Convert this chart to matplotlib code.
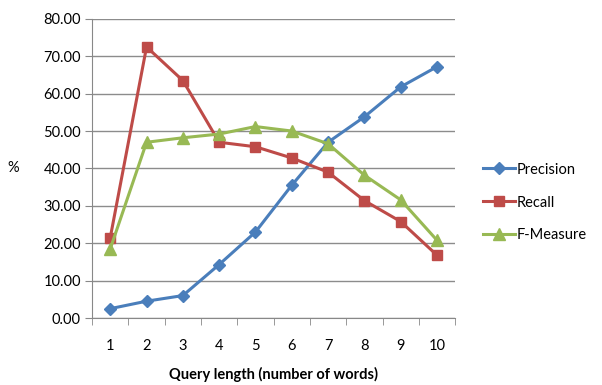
import matplotlib.pyplot as plt
import numpy as np

plt.rcParams['font.family'] = ['Lato', 'DejaVu Sans']

query_len = [1, 2, 3, 4, 5, 6, 7, 8, 9, 10]
precision = [2.5, 4.5, 6.0, 14.3, 23.0, 35.5, 47.0, 53.8, 61.8, 67.2]
recall = [21.5, 72.5, 63.5, 47.0, 45.8, 42.8, 39.0, 31.4, 25.8, 16.8]
f_measure = [18.5, 47.0, 48.2, 49.2, 51.2, 50.0, 46.6, 38.2, 31.6, 20.8]

fig = plt.figure(figsize=(6.02, 3.85), dpi=100)
ax = fig.add_axes([0.153, 0.174, 0.603, 0.777])

x = np.arange(len(query_len))
ax.plot(x, precision, color='#4A7EBB', lw=2.2, marker='D', ms=6, label='Precision')
ax.plot(x, recall, color='#BE4B48', lw=2.2, marker='s', ms=7.5, label='Recall')
ax.plot(x, f_measure, color='#98B954', lw=2.2, marker='^', ms=8, label='F-Measure')

ax.set_xlim(-0.5, len(query_len) - 0.5)
ax.set_ylim(0, 80)
ax.set_yticks(np.arange(0, 81, 10))
ax.set_yticklabels(['%.2f' % v for v in np.arange(0, 81, 10)])
ax.set_xticks(x)
ax.set_xticklabels([str(q) for q in query_len])
ax.set_xticks(np.arange(-0.5, len(query_len), 1), minor=True)
ax.tick_params(axis='x', which='major', length=0, pad=15, labelsize=10.5)
ax.tick_params(axis='x', which='minor', length=5, color='#888888')
ax.tick_params(axis='y', length=5, color='#888888', labelsize=10.5, pad=3)

ax.grid(axis='y', color='#8c8c8c', lw=1)
ax.set_axisbelow(True)
for s in ['top', 'right']:
    ax.spines[s].set_visible(False)
for s in ['left', 'bottom']:
    ax.spines[s].set_color('#888888')

ax.set_xlabel('Query length (number of words)', fontweight='bold', fontsize=10.5, labelpad=10)
ax.set_ylabel('%', rotation=0, fontsize=10.5, labelpad=22, va='center')

ax.legend(loc='center left', bbox_to_anchor=(1.04, 0.386), frameon=False,
          fontsize=10.5, labelspacing=1.3, handlelength=2.2, handletextpad=0.1)

fig.savefig('out.png', dpi=100)
